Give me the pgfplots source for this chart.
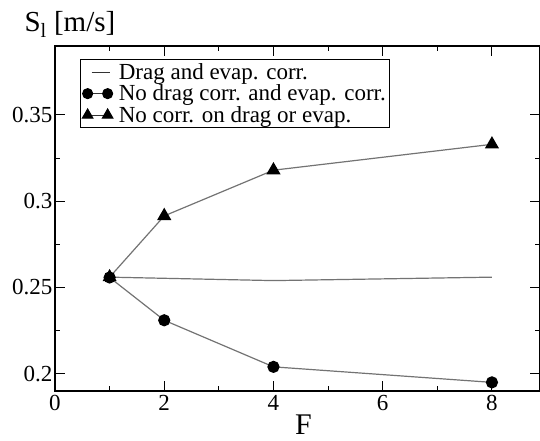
\documentclass[border=0pt]{standalone}
\usepackage{pgfplots}
\pgfplotsset{compat=1.18}
\usepackage{fontspec}
\setmainfont{Liberation Serif}

\pgfplotstableread{
F   S
1   0.2560
4   0.2540
8   0.2560
}\dragevap

\pgfplotstableread{
F   S
1   0.2558
2   0.2310
4   0.2040
8   0.1950
}\nodrag

\pgfplotstableread{
F   S
1   0.2560
2   0.2915
4   0.3180
8   0.3330
}\nocorr

\definecolor{curve}{gray}{0.45}

\begin{document}
\begin{tikzpicture}
\begin{axis}[
  scale only axis,
  width=485pt, height=345pt,
  xmin=0, xmax=8.88,
  ymin=0.19, ymax=0.39,
  xtick={0,2,4,6,8},
  ytick={0.2,0.25,0.3,0.35},
  minor x tick num=1,
  minor y tick num=1,
  tick align=inside,
  major tick length=10pt,
  minor tick length=5pt,
  axis line style={line width=1.1pt},
  every tick/.style={black, line width=1pt},
  tick label style={font=\fontsize{23}{26}\selectfont},
  /pgf/number format/assume math mode=true,
  y tick label style={/pgf/number format/fixed, /pgf/number format/precision=2},
  xticklabel style={yshift=-1pt},
  yticklabel style={xshift=1pt},
  xlabel={F},
  every axis x label/.style={at={(rel axis cs:0.5,0)}, anchor=base,
    yshift=-43pt, xshift=6pt, font=\fontsize{30}{33}\selectfont},
  ylabel={S\textsubscript{l} [m/s]},
  every axis y label/.style={at={(rel axis cs:0,1)}, anchor=base west,
    xshift=-34pt, yshift=14pt, font=\fontsize{29}{32}\selectfont},
  legend style={at={(rel axis cs:0,1)}, anchor=north west,
    xshift=25pt, yshift=-13pt,
    draw=black, line width=0.9pt,
    font=\fontsize{23}{25}\selectfont,
    inner xsep=2pt, inner ysep=2pt,
    row sep=0pt,
    cells={anchor=west}},
  legend image code/.code={%
    \draw[#1] plot coordinates {(0pt,0pt) (20pt,0pt)};},
]
\addplot[curve, line width=1.2pt, forget plot] table[x=F, y=S] {\dragevap};
\addplot[curve, line width=1.2pt, mark=*, mark size=5.5pt,
  mark options={fill=black, draw=black, solid}, forget plot] table[x=F, y=S] {\nodrag};
\addplot[curve, line width=1.2pt, mark=triangle*, mark size=7pt,
  mark options={fill=black, draw=black, solid}, forget plot] table[x=F, y=S] {\nocorr};

% legend entries
\addlegendimage{legend image code/.code={%
  \draw[black!80, line width=1.1pt] (4pt,0pt) -- (22pt,0pt);}}
\addlegendentry{\hspace{4pt}Drag and evap. corr.}
\addlegendimage{black!80, line width=1.1pt, mark=*, mark size=5pt,
  mark options={fill=black, draw=black}}
\addlegendentry{\hspace{4pt}No drag corr. and evap. corr.}
\addlegendimage{black!80, line width=1.1pt, mark=triangle*, mark size=6pt,
  mark options={fill=black, draw=black}}
\addlegendentry{\hspace{4pt}No corr. on drag or evap.}
\end{axis}
\pgfresetboundingbox
\path[use as bounding box] ([xshift=-55pt, yshift=-50pt]current axis.south west)
  rectangle ([yshift=46pt]current axis.north east);
\end{tikzpicture}
\end{document}
